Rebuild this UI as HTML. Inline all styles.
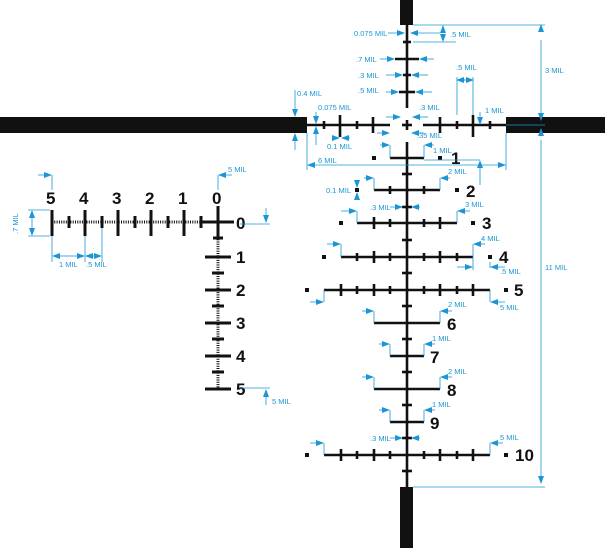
<!DOCTYPE html>
<html><head><meta charset="utf-8"><style>
html,body{margin:0;padding:0;background:#fff;}
svg{display:block}
.b{font-family:"Liberation Sans",sans-serif;font-size:7.5px;fill:#1a96d4}
.n{font-family:"Liberation Sans",sans-serif;font-size:17px;font-weight:bold;fill:#111}
.bl{stroke:#1a96d4;stroke-width:0.8;fill:none}
.k{stroke:#111;fill:none}
</style></head><body>
<svg width="605" height="548" viewBox="0 0 605 548" xmlns="http://www.w3.org/2000/svg">
<defs><marker id="a" markerWidth="8" markerHeight="6" refX="7" refY="3" orient="auto" markerUnits="userSpaceOnUse"><path d="M0,0L8,3L0,6z" fill="#1a96d4"/></marker></defs>
<!-- posts -->
<rect x="400" y="0" width="13" height="25" fill="#111"/>
<rect x="400" y="487" width="13" height="61" fill="#111"/>
<rect x="0" y="117" width="307" height="16" fill="#111"/>
<rect x="506" y="117" width="99" height="16" fill="#111"/>
<g class="k" stroke-width="2.6">
<line x1="407" y1="25" x2="407" y2="108"/>
<line x1="407" y1="142" x2="407" y2="487"/>
<line x1="307" y1="125" x2="390" y2="125"/>
<line x1="423" y1="125" x2="506" y2="125"/>
<line x1="402" y1="125" x2="412" y2="125"/><line x1="407" y1="120" x2="407" y2="130"/>
<!-- upper stadia -->
<line x1="403" y1="42" x2="411" y2="42"/>
<line x1="395" y1="59" x2="419" y2="59"/>
<line x1="403" y1="75" x2="411" y2="75"/>
<line x1="399" y1="92" x2="415" y2="92"/>
<!-- horizontal ticks -->
<line x1="324" y1="121" x2="324" y2="129"/><line x1="340" y1="115" x2="340" y2="137"/>
<line x1="357" y1="121" x2="357" y2="129"/><line x1="373" y1="117" x2="373" y2="133"/>
<line x1="440" y1="117" x2="440" y2="133"/><line x1="457" y1="121" x2="457" y2="129"/>
<line x1="473" y1="115" x2="473" y2="137"/><line x1="490" y1="121" x2="490" y2="129"/>
<!-- vertical small ticks -->
<line x1="402" y1="174" x2="412" y2="174"/><line x1="402" y1="207" x2="412" y2="207"/>
<line x1="402" y1="240" x2="412" y2="240"/><line x1="402" y1="273" x2="412" y2="273"/>
<line x1="402" y1="306" x2="412" y2="306"/><line x1="402" y1="339" x2="412" y2="339"/>
<line x1="402" y1="372" x2="412" y2="372"/><line x1="402" y1="405" x2="412" y2="405"/>
<line x1="402" y1="438" x2="412" y2="438"/><line x1="402" y1="471" x2="412" y2="471"/>
<!-- bars -->
<line x1="390" y1="158" x2="424" y2="158"/>
<line x1="374" y1="190" x2="440" y2="190"/>
<line x1="357" y1="223" x2="457" y2="223"/>
<line x1="341" y1="257" x2="473" y2="257"/>
<line x1="324" y1="290" x2="490" y2="290"/>
<line x1="374" y1="323" x2="440" y2="323"/>
<line x1="390" y1="356" x2="424" y2="356"/>
<line x1="374" y1="389" x2="440" y2="389"/>
<line x1="390" y1="422" x2="424" y2="422"/>
<line x1="324" y1="455" x2="490" y2="455"/>
<!-- bar ticks -->
<line x1="390" y1="186" x2="390" y2="194"/><line x1="424" y1="186" x2="424" y2="194"/>
<line x1="374" y1="217" x2="374" y2="229"/><line x1="390" y1="219" x2="390" y2="227"/><line x1="424" y1="219" x2="424" y2="227"/><line x1="440" y1="217" x2="440" y2="229"/>
<line x1="357" y1="253" x2="357" y2="261"/><line x1="374" y1="251" x2="374" y2="263"/><line x1="390" y1="253" x2="390" y2="261"/><line x1="424" y1="253" x2="424" y2="261"/><line x1="440" y1="251" x2="440" y2="263"/><line x1="457" y1="253" x2="457" y2="261"/>
<line x1="341" y1="284" x2="341" y2="296"/><line x1="357" y1="286" x2="357" y2="294"/><line x1="374" y1="284" x2="374" y2="296"/><line x1="390" y1="286" x2="390" y2="294"/><line x1="424" y1="286" x2="424" y2="294"/><line x1="440" y1="284" x2="440" y2="296"/><line x1="457" y1="286" x2="457" y2="294"/><line x1="473" y1="284" x2="473" y2="296"/>
<line x1="341" y1="449" x2="341" y2="461"/><line x1="357" y1="451" x2="357" y2="459"/><line x1="374" y1="449" x2="374" y2="461"/><line x1="390" y1="451" x2="390" y2="459"/><line x1="424" y1="451" x2="424" y2="459"/><line x1="440" y1="449" x2="440" y2="461"/><line x1="457" y1="451" x2="457" y2="459"/><line x1="473" y1="449" x2="473" y2="461"/>
</g>
<!-- dots -->
<g fill="#111">
<rect x="372" y="156" width="4" height="4"/><rect x="438" y="156" width="4" height="4"/>
<rect x="355" y="188" width="4" height="4"/><rect x="455" y="188" width="4" height="4"/>
<rect x="339" y="221" width="4" height="4"/><rect x="471" y="221" width="4" height="4"/>
<rect x="322" y="255" width="4" height="4"/><rect x="488" y="255" width="4" height="4"/>
<rect x="305" y="288" width="4" height="4"/><rect x="504" y="288" width="4" height="4"/>
<rect x="305" y="453" width="4" height="4"/><rect x="504" y="453" width="4" height="4"/>
</g>
<g class="n">
<text x="451" y="164">1</text><text x="466" y="197">2</text><text x="482" y="229">3</text>
<text x="499" y="263">4</text><text x="514" y="296">5</text><text x="447" y="330">6</text>
<text x="430" y="363">7</text><text x="447" y="396">8</text><text x="430" y="429">9</text>
<text x="515" y="461">10</text>
</g>
<!-- left ladder -->
<g class="k">
<line x1="52" y1="222" x2="202" y2="222" stroke-width="3" stroke-dasharray="1,1.3"/>
<line x1="218" y1="230" x2="218" y2="388" stroke-width="3" stroke-dasharray="1,1.3"/>
<g stroke-width="3">
<line x1="52" y1="210" x2="52" y2="236"/><line x1="85" y1="210" x2="85" y2="236"/><line x1="118" y1="210" x2="118" y2="236"/><line x1="151" y1="210" x2="151" y2="236"/><line x1="184" y1="210" x2="184" y2="236"/>
<line x1="69" y1="216" x2="69" y2="228"/><line x1="102" y1="216" x2="102" y2="228"/><line x1="135" y1="216" x2="135" y2="228"/><line x1="168" y1="216" x2="168" y2="228"/><line x1="201" y1="216" x2="201" y2="228"/>
<line x1="202" y1="222" x2="234" y2="222"/><line x1="218" y1="206" x2="218" y2="238"/><line x1="213" y1="238" x2="223" y2="238"/>
<line x1="205" y1="257" x2="231" y2="257"/><line x1="205" y1="290" x2="231" y2="290"/><line x1="205" y1="323" x2="231" y2="323"/><line x1="205" y1="356" x2="231" y2="356"/><line x1="205" y1="389" x2="231" y2="389"/>
<line x1="212" y1="273" x2="224" y2="273"/><line x1="212" y1="306" x2="224" y2="306"/><line x1="212" y1="339" x2="224" y2="339"/><line x1="212" y1="372" x2="224" y2="372"/>
</g></g>
<g class="n">
<text x="46" y="204">5</text><text x="79" y="204">4</text><text x="112" y="204">3</text><text x="145" y="204">2</text><text x="178" y="204">1</text><text x="212" y="204">0</text>
<text x="236" y="229">0</text><text x="236" y="263">1</text><text x="236" y="296">2</text><text x="236" y="329">3</text><text x="236" y="362">4</text><text x="236" y="395">5</text>
</g>
<!-- blue annotations -->
<g class="bl">
<line x1="413" y1="25" x2="545" y2="25"/><line x1="413" y1="487" x2="545" y2="487"/><line x1="506" y1="125" x2="545" y2="125"/>
<line x1="541" y1="30" x2="541" y2="25" marker-end="url(#a)"/><line x1="541" y1="40" x2="541" y2="120" marker-end="url(#a)"/>
<line x1="541" y1="135" x2="541" y2="129" marker-end="url(#a)"/><line x1="541" y1="140" x2="541" y2="483" marker-end="url(#a)"/>
<line x1="388" y1="33" x2="404" y2="33" marker-end="url(#a)"/><line x1="440" y1="33" x2="411" y2="33" marker-end="url(#a)"/>
<line x1="413" y1="42" x2="456" y2="42"/><line x1="443" y1="33" x2="443" y2="26" marker-end="url(#a)"/><line x1="443" y1="34" x2="443" y2="41" marker-end="url(#a)"/>
<line x1="380" y1="59" x2="394" y2="59" marker-end="url(#a)"/><line x1="434" y1="59" x2="420" y2="59" marker-end="url(#a)"/>
<line x1="386" y1="75" x2="402" y2="75" marker-end="url(#a)"/><line x1="428" y1="75" x2="412" y2="75" marker-end="url(#a)"/>
<line x1="386" y1="92" x2="398" y2="92" marker-end="url(#a)"/><line x1="432" y1="92" x2="416" y2="92" marker-end="url(#a)"/>
<line x1="457" y1="77" x2="457" y2="115"/><line x1="473" y1="77" x2="473" y2="115"/>
<line x1="457" y1="80" x2="473" y2="80" marker-end="url(#a)"/><line x1="473" y1="80" x2="457" y2="80" marker-end="url(#a)"/>
<line x1="480" y1="112" x2="480" y2="124" marker-end="url(#a)"/>
<line x1="386" y1="117" x2="400" y2="117" marker-end="url(#a)"/><line x1="428" y1="117" x2="413" y2="117" marker-end="url(#a)"/>
<line x1="377" y1="133" x2="389" y2="133" marker-end="url(#a)"/><line x1="424" y1="133" x2="412" y2="133" marker-end="url(#a)"/>
<line x1="295" y1="90" x2="295" y2="116" marker-end="url(#a)"/><line x1="295" y1="150" x2="295" y2="134" marker-end="url(#a)"/>
<line x1="316" y1="112" x2="316" y2="123" marker-end="url(#a)"/><line x1="316" y1="145" x2="316" y2="127" marker-end="url(#a)"/>
<line x1="333" y1="138" x2="339" y2="138" marker-end="url(#a)"/><line x1="350" y1="138" x2="342" y2="138" marker-end="url(#a)"/>
<line x1="307" y1="133" x2="307" y2="170"/><line x1="506" y1="133" x2="506" y2="170"/>
<line x1="400" y1="165" x2="308" y2="165" marker-end="url(#a)"/><line x1="400" y1="165" x2="505" y2="165" marker-end="url(#a)"/>
<line x1="390" y1="145" x2="390" y2="158"/><line x1="380" y1="145" x2="389" y2="145" marker-end="url(#a)"/>
<line x1="424" y1="145" x2="424" y2="158"/><line x1="434" y1="145" x2="425" y2="145" marker-end="url(#a)"/>
<line x1="424" y1="160" x2="480" y2="160"/><line x1="480" y1="185" x2="480" y2="161" marker-end="url(#a)"/>
<line x1="374" y1="178" x2="374" y2="190"/><line x1="364" y1="178" x2="373" y2="178" marker-end="url(#a)"/>
<line x1="440" y1="178" x2="440" y2="190"/><line x1="450" y1="178" x2="441" y2="178" marker-end="url(#a)"/>
<line x1="357" y1="180" x2="357" y2="187" marker-end="url(#a)"/><line x1="357" y1="198" x2="357" y2="193" marker-end="url(#a)"/>
<line x1="357" y1="211" x2="357" y2="223"/><line x1="341" y1="211" x2="356" y2="211" marker-end="url(#a)"/>
<line x1="457" y1="211" x2="457" y2="223"/><line x1="470" y1="211" x2="458" y2="211" marker-end="url(#a)"/>
<line x1="390" y1="207" x2="402" y2="207" marker-end="url(#a)"/><line x1="420" y1="207" x2="412" y2="207" marker-end="url(#a)"/>
<line x1="341" y1="244" x2="341" y2="257"/><line x1="327" y1="244" x2="340" y2="244" marker-end="url(#a)"/>
<line x1="473" y1="244" x2="473" y2="270"/><line x1="485" y1="244" x2="474" y2="244" marker-end="url(#a)"/>
<line x1="457" y1="267" x2="472" y2="267" marker-end="url(#a)"/>
<line x1="490" y1="262" x2="490" y2="268"/><line x1="505" y1="267" x2="491" y2="267" marker-end="url(#a)"/>
<line x1="324" y1="290" x2="324" y2="302"/><line x1="310" y1="302" x2="323" y2="302" marker-end="url(#a)"/>
<line x1="490" y1="290" x2="490" y2="302"/><line x1="505" y1="302" x2="491" y2="302" marker-end="url(#a)"/>
<line x1="374" y1="311" x2="374" y2="323"/><line x1="362" y1="311" x2="373" y2="311" marker-end="url(#a)"/>
<line x1="440" y1="311" x2="440" y2="323"/><line x1="452" y1="311" x2="441" y2="311" marker-end="url(#a)"/>
<line x1="390" y1="344" x2="390" y2="356"/><line x1="379" y1="344" x2="389" y2="344" marker-end="url(#a)"/>
<line x1="424" y1="344" x2="424" y2="356"/><line x1="435" y1="344" x2="425" y2="344" marker-end="url(#a)"/>
<line x1="374" y1="377" x2="374" y2="389"/><line x1="362" y1="377" x2="373" y2="377" marker-end="url(#a)"/>
<line x1="440" y1="377" x2="440" y2="389"/><line x1="452" y1="377" x2="441" y2="377" marker-end="url(#a)"/>
<line x1="390" y1="410" x2="390" y2="422"/><line x1="379" y1="410" x2="389" y2="410" marker-end="url(#a)"/>
<line x1="424" y1="410" x2="424" y2="422"/><line x1="435" y1="410" x2="425" y2="410" marker-end="url(#a)"/>
<line x1="390" y1="438" x2="402" y2="438" marker-end="url(#a)"/><line x1="420" y1="438" x2="412" y2="438" marker-end="url(#a)"/>
<line x1="324" y1="443" x2="324" y2="455"/><line x1="310" y1="443" x2="323" y2="443" marker-end="url(#a)"/>
<line x1="490" y1="443" x2="490" y2="455"/><line x1="503" y1="443" x2="491" y2="443" marker-end="url(#a)"/>
<!-- left ladder dims -->
<line x1="52" y1="175" x2="52" y2="190"/><line x1="38" y1="175" x2="51" y2="175" marker-end="url(#a)"/>
<line x1="218" y1="175" x2="218" y2="190"/><line x1="232" y1="175" x2="219" y2="175" marker-end="url(#a)"/>
<line x1="28" y1="210" x2="50" y2="210"/><line x1="28" y1="236" x2="50" y2="236"/>
<line x1="32" y1="222" x2="32" y2="211" marker-end="url(#a)"/><line x1="32" y1="222" x2="32" y2="235" marker-end="url(#a)"/>
<line x1="52" y1="236" x2="52" y2="262"/><line x1="85" y1="236" x2="85" y2="262"/><line x1="102" y1="228" x2="102" y2="262"/>
<line x1="68" y1="256" x2="53" y2="256" marker-end="url(#a)"/><line x1="68" y1="256" x2="84" y2="256" marker-end="url(#a)"/>
<line x1="93" y1="256" x2="86" y2="256" marker-end="url(#a)"/><line x1="93" y1="256" x2="101" y2="256" marker-end="url(#a)"/>
<line x1="240" y1="224" x2="270" y2="224"/><line x1="266" y1="208" x2="266" y2="222" marker-end="url(#a)"/>
<line x1="240" y1="388" x2="270" y2="388"/><line x1="266" y1="405" x2="266" y2="390" marker-end="url(#a)"/>
</g>
<g class="b">
<text x="354" y="36">0.075 MIL</text><text x="450" y="37">.5 MIL</text>
<text x="356" y="62">.7 MIL</text><text x="358" y="78">.3 MIL</text><text x="358" y="93">.5 MIL</text>
<text x="456" y="70">.5 MIL</text><text x="485" y="113">1 MIL</text><text x="545" y="73">3 MIL</text><text x="545" y="270">11 MIL</text>
<text x="419" y="110">.3 MIL</text><text x="417" y="138">.35 MIL</text>
<text x="297" y="96">0.4 MIL</text><text x="318" y="110">0.075 MIL</text><text x="327" y="149">0.1 MIL</text>
<text x="318" y="163">6 MIL</text><text x="433" y="153">1 MIL</text><text x="448" y="174">2 MIL</text>
<text x="326" y="193">0.1 MIL</text><text x="370" y="210">.3 MIL</text><text x="465" y="207">3 MIL</text>
<text x="481" y="241">4 MIL</text><text x="500" y="274">.5 MIL</text><text x="500" y="310">5 MIL</text>
<text x="448" y="307">2 MIL</text><text x="432" y="341">1 MIL</text><text x="448" y="374">2 MIL</text>
<text x="432" y="407">1 MIL</text><text x="370" y="441">.3 MIL</text><text x="500" y="440">5 MIL</text>
<text x="228" y="172">5 MIL</text><text x="59" y="267">1 MIL</text><text x="86" y="267">.5 MIL</text>
<text x="272" y="404">5 MIL</text>
<text transform="translate(18,234) rotate(-90)">.7 MIL</text>
</g>
</svg>
</body></html>
